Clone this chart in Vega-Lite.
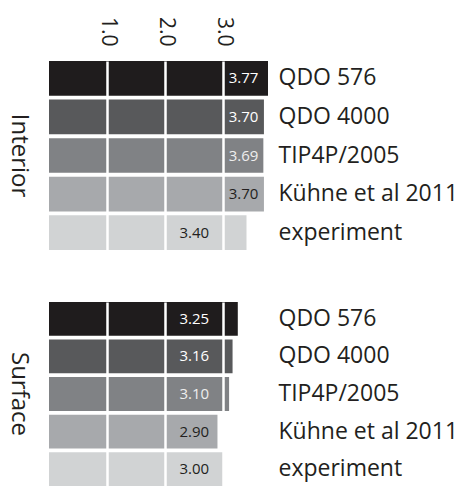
{
  "$schema": "https://vega.github.io/schema/vega-lite/v6.json",
  "padding": {"left": 6, "top": 16, "right": 0, "bottom": 0},
  "background": "white",
  "config": {
    "font": "Open Sans",
    "view": {"stroke": null},
    "concat": {"spacing": 52}
  },
  "datasets": {
    "bars": [
      {"panel": "Interior", "model": "QDO 576", "value": 3.77},
      {"panel": "Interior", "model": "QDO 4000", "value": 3.70},
      {"panel": "Interior", "model": "TIP4P/2005", "value": 3.69},
      {"panel": "Interior", "model": "Kühne et al 2011", "value": 3.70},
      {"panel": "Interior", "model": "experiment", "value": 3.40},
      {"panel": "Surface", "model": "QDO 576", "value": 3.25},
      {"panel": "Surface", "model": "QDO 4000", "value": 3.16},
      {"panel": "Surface", "model": "TIP4P/2005", "value": 3.10},
      {"panel": "Surface", "model": "Kühne et al 2011", "value": 2.90},
      {"panel": "Surface", "model": "experiment", "value": 3.00}
    ]
  },
  "vconcat": [
    {
      "title": {"text": "Interior", "orient": "left", "angle": 90, "fontSize": 24, "fontWeight": "normal", "color": "#231f20", "anchor": "middle", "offset": -6},
      "width": 219,
      "height": 189,
      "data": {"name": "bars"},
      "transform": [{"filter": "datum.panel === 'Interior'"}],
      "encoding": {
        "y": {
          "field": "model", "type": "nominal",
          "sort": ["QDO 576", "QDO 4000", "TIP4P/2005", "Kühne et al 2011", "experiment"],
          "scale": {"paddingInner": 0.1, "paddingOuter": 0},
          "axis": {"orient": "right", "title": null, "ticks": false, "domain": false, "labelPadding": 10, "labelFontSize": 23, "labelColor": "#231f20"}
        }
      },
      "layer": [
        {
          "mark": {"type": "bar"},
          "encoding": {
            "x": {
              "field": "value", "type": "quantitative",
              "scale": {"domain": [0, 3.77], "nice": false, "zero": true},
              "axis": {"orient": "top", "title": null, "values": [1, 2, 3], "format": ".1f", "labelAngle": 90, "labelFontSize": 21, "labelColor": "#231f20", "labelPadding": 15, "ticks": false, "domain": false, "grid": true, "gridColor": "white", "gridWidth": 2.5, "zindex": 1}
            },
            "color": {
              "field": "model", "type": "nominal", "legend": null,
              "scale": {"domain": ["QDO 576", "QDO 4000", "TIP4P/2005", "Kühne et al 2011", "experiment"], "range": ["#1f1c1d", "#58595b", "#808285", "#a7a9ac", "#d1d3d4"]}
            }
          }
        },
        {
          "transform": [{"filter": "datum.value >= 3.5"}],
          "mark": {"type": "text", "fontSize": 15},
          "encoding": {
            "x": {"datum": 3.35, "type": "quantitative"},
            "text": {"field": "value", "type": "quantitative", "format": ".2f"},
            "color": {
              "field": "model", "type": "nominal", "legend": null,
              "scale": {"domain": ["QDO 576", "QDO 4000", "TIP4P/2005", "Kühne et al 2011", "experiment"], "range": ["#ffffff", "#ffffff", "#eeeeee", "#231f20", "#231f20"]}
            }
          }
        },
        {
          "transform": [{"filter": "datum.value < 3.5"}],
          "mark": {"type": "text", "fontSize": 15},
          "encoding": {
            "x": {"datum": 2.5, "type": "quantitative"},
            "text": {"field": "value", "type": "quantitative", "format": ".2f"},
            "color": {
              "field": "model", "type": "nominal", "legend": null,
              "scale": {"domain": ["QDO 576", "QDO 4000", "TIP4P/2005", "Kühne et al 2011", "experiment"], "range": ["#ffffff", "#ffffff", "#eeeeee", "#231f20", "#231f20"]}
            }
          }
        }
      ],
      "resolve": {"scale": {"color": "independent"}}
    },
    {
      "title": {"text": "Surface", "orient": "left", "angle": 90, "fontSize": 24, "fontWeight": "normal", "color": "#231f20", "anchor": "middle", "offset": -6},
      "width": 219,
      "height": 184,
      "data": {"name": "bars"},
      "transform": [{"filter": "datum.panel === 'Surface'"}],
      "encoding": {
        "y": {
          "field": "model", "type": "nominal",
          "sort": ["QDO 576", "QDO 4000", "TIP4P/2005", "Kühne et al 2011", "experiment"],
          "scale": {"paddingInner": 0.1, "paddingOuter": 0},
          "axis": {"orient": "right", "title": null, "ticks": false, "domain": false, "labelPadding": 10, "labelFontSize": 23, "labelColor": "#231f20"}
        }
      },
      "layer": [
        {
          "mark": {"type": "bar"},
          "encoding": {
            "x": {
              "field": "value", "type": "quantitative",
              "scale": {"domain": [0, 3.77], "nice": false, "zero": true},
              "axis": {"orient": "top", "title": null, "values": [1, 2, 3], "labels": false, "ticks": false, "domain": false, "grid": true, "gridColor": "white", "gridWidth": 2.5, "zindex": 1}
            },
            "color": {
              "field": "model", "type": "nominal", "legend": null,
              "scale": {"domain": ["QDO 576", "QDO 4000", "TIP4P/2005", "Kühne et al 2011", "experiment"], "range": ["#1f1c1d", "#58595b", "#808285", "#a7a9ac", "#d1d3d4"]}
            }
          }
        },
        {
          "mark": {"type": "text", "fontSize": 15},
          "encoding": {
            "x": {"datum": 2.5, "type": "quantitative"},
            "text": {"field": "value", "type": "quantitative", "format": ".2f"},
            "color": {
              "field": "model", "type": "nominal", "legend": null,
              "scale": {"domain": ["QDO 576", "QDO 4000", "TIP4P/2005", "Kühne et al 2011", "experiment"], "range": ["#ffffff", "#ffffff", "#eeeeee", "#231f20", "#231f20"]}
            }
          }
        }
      ],
      "resolve": {"scale": {"color": "independent"}}
    }
  ]
}
